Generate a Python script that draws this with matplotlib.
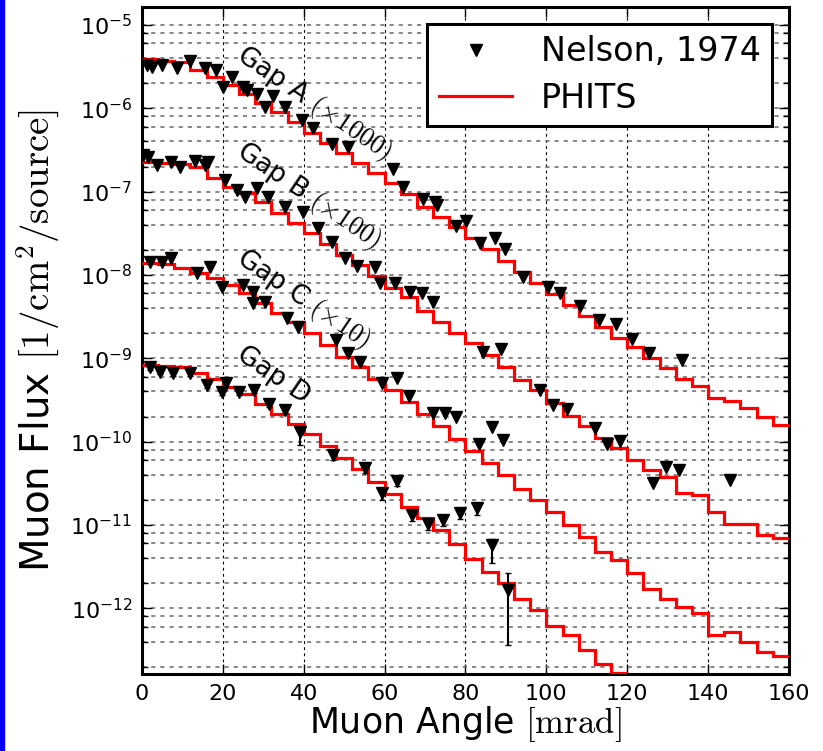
import numpy as np
import matplotlib.pyplot as plt
from matplotlib.ticker import LogLocator, NullFormatter
from matplotlib.lines import Line2D
from matplotlib.patches import Rectangle

plt.rcParams['font.family'] = ['DejaVu Sans']
plt.rcParams['mathtext.fontset'] = 'cm'
plt.rcParams['axes.unicode_minus'] = False

# PHITS histograms, 4 mrad bins from 0 to 160 mrad [1/cm2/source]
bin_edges = np.arange(0, 164, 4)

phits_a = [3.87e-6, 3.70e-6, 3.60e-6, 2.88e-6, 2.38e-6, 1.91e-6, 1.49e-6, 1.17e-6,
           9.1e-7, 6.9e-7, 5.1e-7, 3.8e-7, 2.9e-7, 2.2e-7, 1.66e-7, 1.26e-7,
           9.3e-8, 6.6e-8, 5.0e-8, 3.72e-8, 2.75e-8, 2.03e-8, 1.47e-8, 1.09e-8,
           8.05e-9, 5.9e-9, 4.36e-9, 3.21e-9, 2.39e-9, 1.73e-9, 1.37e-9, 1.01e-9,
           7.6e-10, 5.7e-10, 4.6e-10, 3.36e-10, 3.06e-10, 2.55e-10, 1.99e-10, 1.58e-10]
phits_b = [2.29e-7, 2.22e-7, 2.14e-7, 1.96e-7, 1.45e-7, 1.15e-7, 9.7e-8, 7.4e-8,
           5.6e-8, 4.16e-8, 3.16e-8, 2.35e-8, 1.73e-8, 1.32e-8, 9.7e-9, 6.97e-9,
           5.43e-9, 3.72e-9, 2.74e-9, 1.99e-9, 1.51e-9, 1.09e-9, 7.9e-10, 5.47e-10,
           4.15e-10, 2.94e-10, 2.05e-10, 1.53e-10, 1.10e-10, 8.4e-11, 6.0e-11, 4.55e-11,
           3.78e-11, 2.39e-11, 2.28e-11, 1.44e-11, 1.04e-11, 1.04e-11, 7.55e-12, 6.9e-12]
phits_c = [1.40e-8, 1.35e-8, 1.20e-8, 1.045e-8, 9.1e-9, 7.6e-9, 6.0e-9, 4.56e-9,
           3.46e-9, 2.74e-9, 1.99e-9, 1.44e-9, 1.04e-9, 7.9e-10, 5.7e-10, 4.15e-10,
           3.0e-10, 2.14e-10, 1.52e-10, 1.08e-10, 7.7e-11, 5.47e-11, 3.99e-11, 2.69e-11,
           1.99e-11, 1.44e-11, 9.95e-12, 7.2e-12, 4.75e-12, 3.78e-12, 2.62e-12, 1.73e-12,
           1.31e-12, 1.04e-12, 8.7e-13, 4.75e-13, 5.2e-13, 3.95e-13, 3.0e-13, 2.66e-13]
phits_d = [8.3e-10, 8.1e-10, 7.9e-10, 6.6e-10, 5.7e-10, 4.55e-10, 3.72e-10, 2.82e-10,
           2.14e-10, 1.65e-10, 1.25e-10, 8.9e-11, 6.4e-11, 4.68e-11, 3.3e-11, 2.34e-11,
           1.65e-11, 1.20e-11, 8.7e-12, 5.9e-12, 3.96e-12, 2.74e-12, 1.99e-12, 1.31e-12,
           9.5e-13, 6.1e-13, 4.75e-13, 3.2e-13, 2.13e-13, 1.68e-13]

# Nelson, 1974 measurements (angle in mrad, flux)
nelson_a_x = [1.2, 2.6, 4.9, 8.6, 11.9, 15.6, 18.3, 20.1, 22.2, 25.1, 25.9, 28.4, 30.4,
              32.5, 35.4, 39.5, 42.4, 46.9, 51.0, 62.0, 64.6, 69.4, 72.5, 72.9, 77.7,
              80.1, 83.6, 87.3, 89.8, 94.3, 100.5, 103.4, 108.3, 113.0, 117.1, 121.1,
              125.5, 133.5]
nelson_a_y = [3.31e-6, 3.16e-6, 3.31e-6, 3.02e-6, 3.72e-6, 3.02e-6, 2.88e-6, 1.79e-6,
              2.36e-6, 1.79e-6, 1.66e-6, 1.49e-6, 1.04e-6, 1.41e-6, 1.04e-6, 7.2e-7,
              5.75e-7, 3.72e-7, 3.46e-7, 1.85e-7, 1.15e-7, 8.1e-8, 7.6e-8, 6.9e-8,
              3.86e-8, 4.48e-8, 2.39e-8, 2.75e-8, 2.03e-8, 9.35e-9, 7.2e-9, 6.0e-9,
              4.24e-9, 2.88e-9, 2.58e-9, 1.69e-9, 1.16e-9, 9.5e-10]

nelson_b_x = [0.3, 1.6, 3.6, 7.3, 9.4, 13.1, 15.6, 16.4, 20.5, 23.4, 25.5, 28.4, 31.2,
              35.4, 39.9, 43.6, 46.9, 50.2, 53.1, 57.6, 58.9, 62.6, 66.3, 69.2, 71.9,
              84.3, 88.7, 98.5, 101.6, 105.0, 112.0, 115.0, 118.2, 126.4, 129.7, 132.8,
              145.4]
nelson_b_y = [2.75e-7, 2.62e-7, 2.08e-7, 2.29e-7, 1.99e-7, 2.35e-7, 2.08e-7, 2.29e-7,
              1.38e-7, 1.04e-7, 8.7e-8, 1.09e-7, 8.7e-8, 6.6e-8, 5.74e-8, 3.62e-8,
              2.5e-8, 1.58e-8, 1.28e-8, 1.25e-8, 7.9e-9, 7.9e-9, 6.3e-9, 6.0e-9,
              4.76e-9, 1.2e-9, 1.31e-9, 4.2e-10, 2.74e-10, 2.47e-10, 1.47e-10, 9.5e-11,
              1.03e-10, 3.15e-11, 4.94e-11, 4.6e-11, 3.45e-11]

nelson_c_x = [2.0, 4.9, 7.3, 13.5, 16.8, 19.7, 25.1, 27.5, 27.5, 30.4, 35.8, 38.7, 48.1,
              51.0, 53.9, 59.3, 63.0, 66.1, 72.0, 74.9, 77.7, 83.4, 86.5, 89.3]
nelson_c_y = [1.44e-8, 1.44e-8, 1.58e-8, 1.045e-8, 1.26e-8, 7.2e-9, 7.6e-9, 6.3e-9,
              4.56e-9, 4.76e-9, 3.01e-9, 2.39e-9, 1.66e-9, 1.15e-9, 9.1e-10, 5.0e-10,
              5.73e-10, 3.52e-10, 2.18e-10, 2.18e-10, 1.99e-10, 9.3e-11, 1.51e-10, 1.04e-10]

nelson_d_x = [2.0, 4.5, 7.7, 11.9, 16.0, 19.7, 20.9, 24.0, 27.6, 31.3, 35.4, 39.1, 47.3,
              55.1, 59.3, 63.0, 66.7, 70.8, 74.5, 78.6, 82.8, 86.5, 90.4]
nelson_d_y = [7.9e-10, 6.9e-10, 6.7e-10, 6.7e-10, 4.76e-10, 3.96e-10, 5.0e-10, 3.96e-10,
              4.19e-10, 2.82e-10, 2.39e-10, 1.31e-10, 6.9e-11, 4.8e-11, 2.39e-11, 3.36e-11,
              1.31e-11, 1.04e-11, 1.14e-11, 1.40e-11, 1.58e-11, 5.7e-12, 1.65e-12]
nelson_d_lo = [6.5e-11, 5e-11, 5e-11, 5e-11, 4e-11, 3.5e-11, 4e-11, 3.5e-11,
               3.5e-11, 2.5e-11, 2e-11, 4e-11, 8e-12, 6e-12, 4e-12, 4e-12,
               2e-12, 1.8e-12, 1.8e-12, 2.2e-12, 2.5e-12, 2.2e-12, 1.29e-12]
nelson_d_hi = [6.5e-11, 5e-11, 5e-11, 5e-11, 4e-11, 3.5e-11, 4e-11, 3.5e-11,
               3.5e-11, 2.5e-11, 2e-11, 2e-11, 8e-12, 6e-12, 4e-12, 4e-12,
               2e-12, 1.8e-12, 1.8e-12, 2.2e-12, 2.5e-12, 1.1e-12, 1.0e-12]

fig = plt.figure(figsize=(8.23, 7.51), dpi=100)
ax = fig.add_axes([0.1725, 0.1025, 0.7862, 0.8882])

# blue strip on the left edge of the slide
fig.patches.append(Rectangle((0, 0), 4 / 823, 1, transform=fig.transFigure,
                             color='blue', zorder=0))

ax.set_yscale('log')
ax.set_xlim(0, 160)
ax.set_ylim(1.63e-13, 1.64e-5)

# grid
ax.yaxis.set_major_locator(LogLocator(base=10, numticks=20))
ax.yaxis.set_minor_locator(LogLocator(base=10, subs=(2, 4, 6, 8), numticks=20))
ax.yaxis.set_minor_formatter(NullFormatter())
ax.grid(True, which='major', axis='x', ls=(0, (2.5, 3)), color='k', lw=0.8)
ax.grid(True, which='both', axis='y', ls=(0, (2.5, 3)), color='0.45', lw=1.2)
ax.set_axisbelow(True)

# PHITS
for vals in [phits_a, phits_b, phits_c]:
    ax.stairs(vals, bin_edges, baseline=None, color='red', lw=2.3, zorder=3)
ax.stairs(phits_d, bin_edges[:len(phits_d) + 1], baseline=None, color='red', lw=2.3, zorder=3)

# Nelson data
mk = dict(fmt='v', color='k', ms=9, ecolor='k', elinewidth=1.5, capsize=2, zorder=4)
ax.errorbar(nelson_a_x, nelson_a_y, **mk)
ax.errorbar(nelson_b_x, nelson_b_y, **mk)
ax.errorbar(nelson_c_x, nelson_c_y, **mk)
ax.errorbar(nelson_d_x, nelson_d_y, yerr=[nelson_d_lo, nelson_d_hi], **mk)

# labels on the curves
txt = dict(rotation=-34, rotation_mode='anchor', ha='left', va='baseline', fontsize=19)
ax.text(23.0, 4.0e-6, r'Gap A $(\times 1000)$', **txt)
ax.text(23.0, 2.8e-7, r'Gap B $(\times 100)$', **txt)
ax.text(23.0, 1.43e-8, r'Gap C $(\times 10)$', **txt)
ax.text(23.0, 1.0e-9, r'Gap D', **txt)

ax.set_xlabel(r'Muon Angle $[\mathrm{mrad}]$', fontsize=25, labelpad=0)
ax.set_ylabel(r'Muon Flux $[1/\mathrm{cm}^2/\mathrm{source}]$', fontsize=28, labelpad=6)

ax.tick_params(which='both', direction='in', top=True, right=True, labelsize=16)
ax.tick_params(which='major', length=7, width=1, pad=7)
ax.tick_params(which='minor', length=4, width=1, labelleft=False, labelbottom=False)
for s in ax.spines.values():
    s.set_linewidth(2.2)

handles = [Line2D([], [], marker='v', ls='none', color='k', ms=8),
           Line2D([], [], color='red', lw=2.3)]
leg = ax.legend(handles, ['Nelson, 1974', 'PHITS'], loc='upper right', fontsize=24,
                fancybox=False, framealpha=1, edgecolor='k', borderpad=0.35,
                labelspacing=0.4, handlelength=2.2, handletextpad=0.85)
leg.get_frame().set_linewidth(2.2)

fig.savefig('out.png', dpi=100)
